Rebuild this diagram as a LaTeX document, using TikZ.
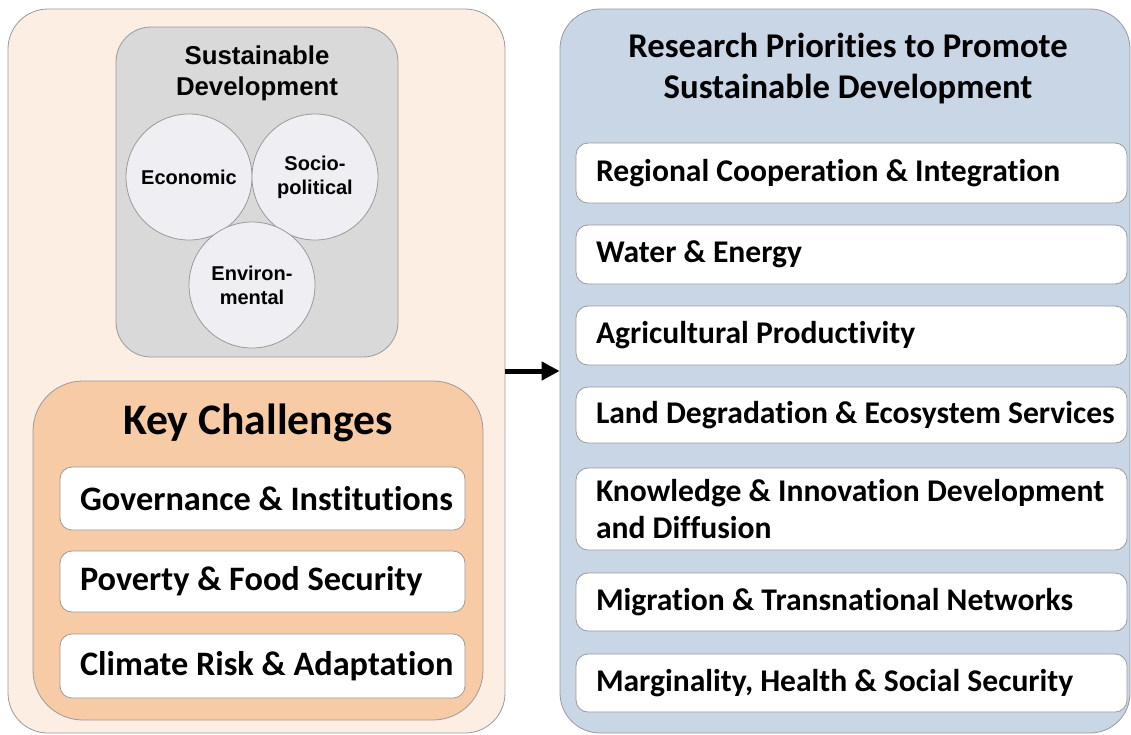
\documentclass[tikz,border=0pt]{standalone}
\usepackage{fontspec}
\setmainfont{Carlito}[Ligatures=NoCommon]
\newfontfamily\arialfont{Liberation Sans}
\usetikzlibrary{positioning, arrows.meta}
\definecolor{peach}{HTML}{FDEEE3}
\definecolor{orangebox}{HTML}{F8CBA7}
\definecolor{graybox}{HTML}{D9D9D9}
\definecolor{pillar}{HTML}{EFEEF3}
\definecolor{bluebox}{HTML}{C9D6E6}
\definecolor{edge}{HTML}{9A9A9A}

\tikzset{
  panel/.style={draw=edge, line width=0.8pt, inner sep=0pt},
  pillarnode/.style={circle, draw=edge, line width=0.8pt, fill=pillar, minimum size=126pt, inner sep=0pt, align=center, font=\arialfont\bfseries\fontsize{20}{24}\selectfont},
  challenge/.style={draw=edge, line width=0.8pt, fill=white, rounded corners=12pt, text width=389pt, inner xsep=8pt, align=flush left, execute at begin node={\leftskip=12pt}, font=\bfseries\fontsize{34.3}{40}\selectfont},
  priority/.style={draw=edge, line width=0.8pt, fill=white, rounded corners=12pt, text width=531pt, inner xsep=10pt, align=flush left, execute at begin node={\leftskip=10pt}, font=\bfseries\fontsize{31.6}{37}\selectfont}
}

\begin{document}
\begin{tikzpicture}[x=1pt, y=-1pt]
    \useasboundingbox (0,0) rectangle (1131,734);

    % left side
    \node[panel, fill=peach, rounded corners=40pt, minimum width=497pt, minimum height=724pt] (left) at (256.5,371) {};
    \node[panel, fill=graybox, rounded corners=35pt, minimum width=282pt, minimum height=330pt] (sd) at (257,192) {};
    \node[align=center, font=\arialfont\bfseries\fontsize{25.8}{31}\selectfont] (sdtitle) at (257,73) {Sustainable\\Development};

    \node[pillarnode] (economic) at (189,177) {Economic};
    \node[pillarnode] (social) at (315,177) {Socio-\\political};
    \node[pillarnode] (environ) at (252,285) {Environ-\\mental};

    \node[panel, fill=orangebox, rounded corners=50pt, minimum width=450pt, minimum height=339pt] (kc) at (258,550.5) {};
    \node[font=\bfseries\fontsize{43.6}{48}\selectfont] (kctitle) at (258,423) {Key Challenges};

    \node[challenge, minimum height=63pt] (gov) at (262.5,498.5) {Governance \& Institutions};
    \node[challenge, minimum height=61pt] (poverty) at (262.5,581.5) {Poverty \& Food Security};
    \node[challenge, minimum height=64pt] (climate) at (262.5,666) {Climate Risk \& Adaptation};

    % right side
    \node[panel, fill=bluebox, rounded corners=40pt, minimum width=570pt, minimum height=724pt] (right) at (845,371) {};
    \node[align=center, font=\bfseries\fontsize{34.7}{41}\selectfont] (rptitle) at (848,68.5) {Research Priorities to Promote\\Sustainable Development};

    \node[priority, minimum height=60pt] (regional) at (851.5,173) {Regional Cooperation \& Integration};
    \node[priority, minimum height=59pt] (water) at (851.5,254.5) {Water \& Energy};
    \node[priority, minimum height=59pt] (agri) at (851.5,335.5) {Agricultural Productivity};
    \node[priority, minimum height=56pt] (land) at (851.5,415) {Land Degradation \& Ecosystem Services};
    \node[priority, minimum height=82pt] (knowledge) at (851.5,509) {Knowledge \& Innovation Development\\and Diffusion};
    \node[priority, minimum height=58pt] (migration) at (851.5,602) {Migration \& Transnational Networks};
    \node[priority, minimum height=58pt] (margin) at (851.5,683) {Marginality, Health \& Social Security};

    \draw[line width=5pt, -{Triangle[length=18pt, width=18pt]}] (left.east) -- (right.west);
\end{tikzpicture}
\end{document}
